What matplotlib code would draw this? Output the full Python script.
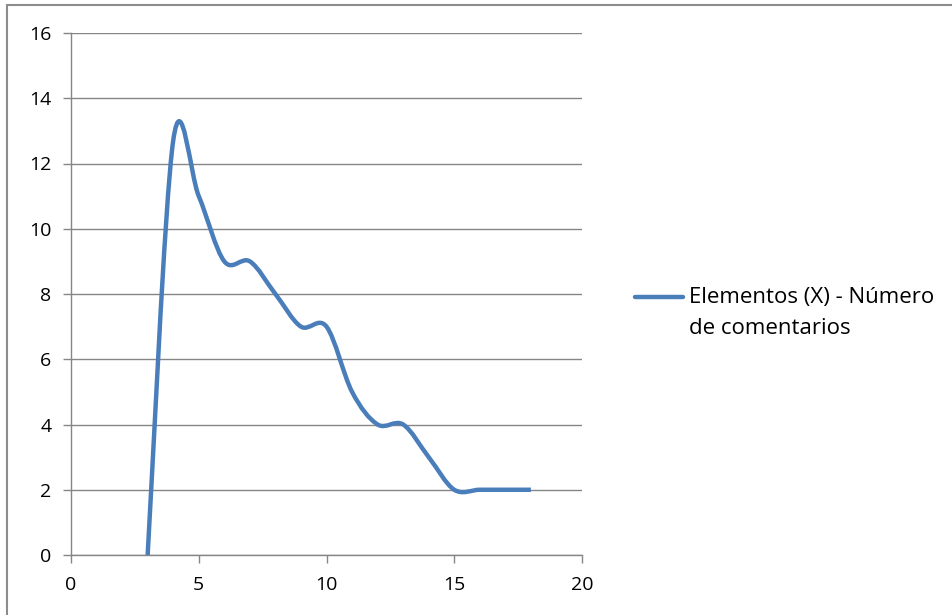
import matplotlib.pyplot as plt
import numpy as np
from matplotlib.path import Path
from matplotlib.patches import PathPatch, Rectangle
from matplotlib.lines import Line2D

# data
elementos = [3, 4, 5, 6, 7, 8, 9, 10, 11, 12, 13, 14, 15, 16, 17, 18]
comentarios = [0, 12.7, 11, 9, 9, 8, 7, 7, 5, 4, 4, 3, 2, 2, 2, 2]
serie_label = ["Elementos (X) - Número", "de comentarios"]
x_ticks = [0, 5, 10, 15, 20]
y_ticks = [0, 2, 4, 6, 8, 10, 12, 14, 16]

blue = "#4A7EBB"
grey = "#868686"
font = ["Open Sans", "DejaVu Sans"]


# Excel-like smoothed line: cubic bezier segments through the points
def smooth_path(xs, ys):
    pts = np.column_stack([xs, ys]).astype(float)
    n = len(pts)
    verts = [pts[0]]
    codes = [Path.MOVETO]
    for i in range(n - 1):
        p0 = pts[i - 1] if i > 0 else pts[i]
        p1 = pts[i]
        p2 = pts[i + 1]
        p3 = pts[i + 2] if i + 2 < n else pts[i + 1]
        c1 = p1 + (p2 - p0) / 6
        c2 = p2 - (p3 - p1) / 6
        verts += [c1, c2, p2]
        codes += [Path.CURVE4] * 3
    return Path(verts, codes)


fig = plt.figure(figsize=(9.52, 6.15), dpi=100)
ax = fig.add_axes([71 / 952, 1 - 555 / 615, (582 - 71) / 952, (555 - 33) / 615])

ax.add_patch(PathPatch(smooth_path(elementos, comentarios), facecolor="none",
                       edgecolor=blue, lw=3.2, capstyle="butt", joinstyle="round", zorder=3))

ax.set_xlim(0, 20)
ax.set_ylim(0, 16)
ax.set_xticks(x_ticks)
ax.set_yticks(y_ticks)
ax.grid(axis="y", color=grey, lw=1)
ax.set_axisbelow(True)
for side in ["top", "right"]:
    ax.spines[side].set_visible(False)
for side in ["left", "bottom"]:
    ax.spines[side].set_color(grey)
    ax.spines[side].set_linewidth(1)
ax.tick_params(axis="both", direction="out", length=6, width=1, color=grey,
               labelsize=14, pad=8)
ax.tick_params(axis="x", pad=9)
for lab in ax.get_xticklabels() + ax.get_yticklabels():
    lab.set_fontfamily(font)

# legend drawn by hand
fig.add_artist(Line2D([635 / 952, 683 / 952], [1 - 297 / 615, 1 - 297 / 615],
                      color=blue, lw=3.2, solid_capstyle="round"))
for line_txt, base in zip(serie_label, [303, 334]):
    fig.text(689 / 952, 1 - base / 615, line_txt, fontsize=16, family=font,
             va="baseline", ha="left")

# chart area border (only left and top visible in the crop)
fig.add_artist(Rectangle((7 / 952, -0.1), 1.2, 1 - 5 / 615 + 0.1,
                         transform=fig.transFigure, fill=False, ec="#8c8c8c", lw=1.5))

fig.savefig("out.png", dpi=100)
